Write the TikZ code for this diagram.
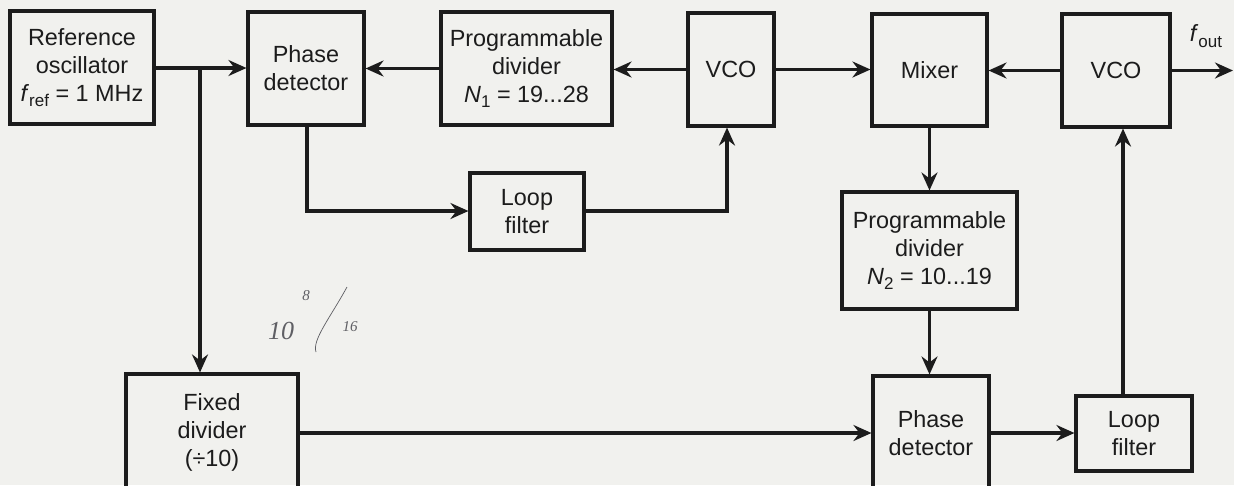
\documentclass[tikz,border=0pt]{standalone}
\usepackage{fontspec}
\setmainfont{Liberation Sans}
\newfontfamily\handfont{Liberation Serif}
\usetikzlibrary{arrows.meta}
\definecolor{ink}{RGB}{28,28,28}
\definecolor{paper}{RGB}{241,241,238}
\definecolor{pencil}{RGB}{95,95,100}
\newcommand{\mysub}[1]{\raisebox{-0.45ex}{\fontsize{17}{17}\selectfont #1}}
\begin{document}
\begin{tikzpicture}[x=1pt,y=-1pt,
  blk/.style={draw=ink,line width=3.1pt,align=center,inner sep=0pt,text=ink,
    font=\fontsize{23.4}{28}\selectfont},
  conn/.style={draw=ink,line width=3.1pt,-{Stealth[length=18pt,width=16pt,inset=6pt]}},
  wire/.style={draw=ink,line width=3.1pt},
  hand/.style={text=pencil,inner sep=0pt,font=\handfont\itshape}]
\fill[paper] (0,0) rectangle (1234,485);
\useasboundingbox (0,0) rectangle (1234,485);
\clip (0,0) rectangle (1234,485);

% top row
\node[blk,minimum width=144pt,minimum height=113pt] (ref) at (82,67.5)
  {Reference\\oscillator\\\textit{f}\mysub{ref} = 1 MHz};
\node[blk,minimum width=116pt,minimum height=113pt] (pd1) at (306,68.5)
  {Phase\\detector};
\node[blk,minimum width=171pt,minimum height=113pt] (nd1) at (526.5,68.5)
  {Programmable\\divider\\\textit{N}\mysub{1} = 19...28};
\node[blk,minimum width=86pt,minimum height=113pt] (vco1) at (731,69.5) {VCO};
\node[blk,minimum width=115pt,minimum height=112pt] (mix) at (929.5,70) {Mixer};
\node[blk,minimum width=108pt,minimum height=113pt] (vco2) at (1116,70.5) {VCO};

% middle
\node[blk,minimum width=114pt,minimum height=77pt] (lf1) at (527,211.5) {Loop\\filter};
\node[blk,minimum width=175pt,minimum height=117pt] (nd2) at (929.5,250.5)
  {Programmable\\divider\\\textit{N}\mysub{2} = 10...19};

% bottom
\node[blk,minimum width=172pt,minimum height=116pt] (fd) at (212,432)
  {Fixed\\divider\\(÷10)};
\node[blk,minimum width=116pt,minimum height=114pt] (pd2) at (931,433)
  {Phase\\detector};
\node[blk,minimum width=116pt,minimum height=75pt] (lf2) at (1134,433.5) {Loop\\filter};

% helper coordinates
\coordinate (br) at (200,68);
\coordinate (out) at (1233,70.5);
\coordinate (c1) at (307,211);
\coordinate (c2) at (727,211);
\coordinate (c3) at (1123,396);

% connectors
\draw[conn] (ref.east |- br) -- (br -| pd1.west);
\draw[conn] (br) -- (br |- fd.north);
\draw[conn] (nd1.west) -- (nd1.west -| pd1.east);
\draw[conn] (vco1.west) -- (vco1.west -| nd1.east);
\draw[conn] (vco1.east) -- (vco1.east -| mix.west);
\draw[conn] (vco2.west) -- (vco2.west -| mix.east);
\draw[conn] (vco2.east) -- (out);
\node[text=ink,inner sep=0pt,font=\fontsize{23.4}{28}\selectfont] (fout) at (1206,36)
  {\textit{f}\mysub{out}};
\draw[conn] (c1 |- pd1.south) -- (c1) -- (lf1.west |- c1);
\draw[conn] (lf1.east |- c2) -- (c2) -- (c2 |- vco1.south);
\draw[conn] (mix.south) -- (nd2.north);
\draw[conn] (nd2.south) -- (nd2.south |- pd2.north);
\draw[conn] (fd.east |- pd2.west) -- (pd2.west);
\draw[conn] (pd2.east) -- (pd2.east -| lf2.west);
\draw[conn] (c3 |- lf2.north) -- (c3 |- vco2.south);

% handwritten note
\node[hand,font=\handfont\itshape\fontsize{26}{26}\selectfont] (n10) at (281,331) {10};
\node[hand,font=\handfont\itshape\fontsize{15}{15}\selectfont] (n8) at (306,296) {8};
\node[hand,font=\handfont\itshape\fontsize{15}{15}\selectfont] (n16) at (350,327) {16};
\coordinate (s1) at (347,287);
\coordinate (s2) at (316,352);
\draw[pencil,line width=0.7pt] (s1) .. controls (330,318) and (312,340) .. (s2);
\end{tikzpicture}
\end{document}
